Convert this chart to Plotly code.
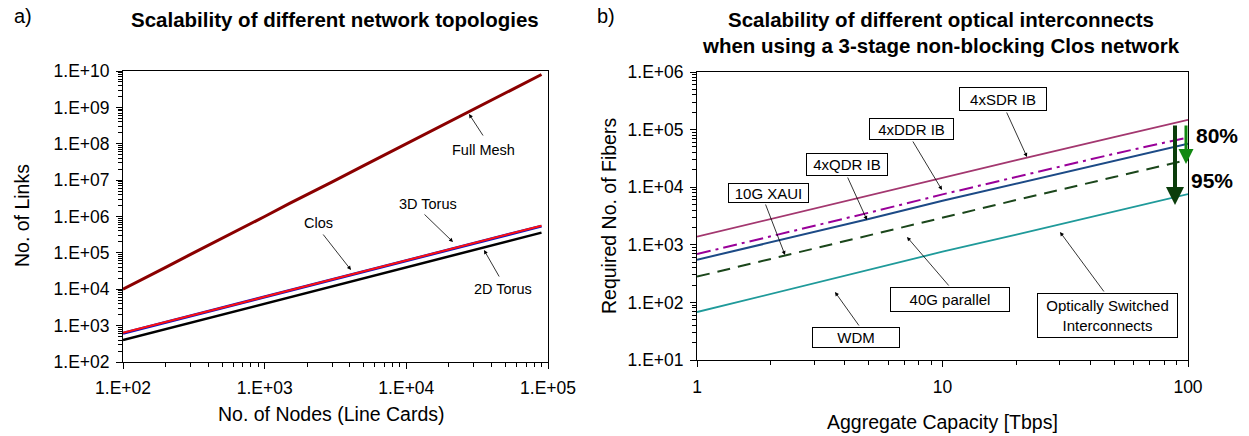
import plotly.graph_objects as go

W, H = 1249, 436
FONT = "Liberation Sans, Arial, sans-serif"

# ---------------- data: panel a ----------------
nodes = [100, 150, 200, 300, 500, 700, 1000, 1500, 2000, 3000, 5000, 7000,
         10000, 15000, 20000, 30000, 50000, 70000, 90000]
full_mesh = [1.0e4, 2.2e4, 4.0e4, 9.1e4, 2.5e5, 4.8e5, 1.0e6, 2.3e6, 4.0e6, 9.0e6,
             2.5e7, 4.9e7, 1.0e8, 2.25e8, 4.0e8, 9.0e8, 2.5e9, 4.9e9, 8.0e9]
clos = [640, 950, 1230, 1900, 3150, 4300, 6200, 9300, 12400, 18600, 31000, 43000,
        62000, 92000, 124000, 186000, 310000, 430000, 560000]
torus3d = [620, 930, 1200, 1850, 3050, 4250, 6050, 9100, 12100, 18200, 30500, 42500,
           60500, 91000, 121000, 182000, 303000, 425000, 545000]
torus2d = [400, 600, 800, 1200, 2000, 2800, 4000, 6000, 8000, 12000, 20000, 28000,
           40000, 60000, 80000, 120000, 200000, 280000, 360000]

# ---------------- data: panel b ----------------
capacity = [1, 2, 5, 10, 20, 50, 100]
sdr_ib = [1380, 2800, 7200, 14800, 29500, 74000, 148000]
ddr_ib = [690, 1400, 3600, 7500, 15000, 38000, 73000]
qdr_ib = [550, 1100, 2800, 5800, 11500, 29000, 57000]
xaui_40g = [280, 570, 1450, 3000, 6000, 15000, 30000]
wdm_osi = [68, 140, 360, 760, 1500, 3800, 7600]

left_yticks = [1e2, 1e3, 1e4, 1e5, 1e6, 1e7, 1e8, 1e9, 1e10]
left_yticktext = ["1.E+02", "1.E+03", "1.E+04", "1.E+05", "1.E+06", "1.E+07",
                  "1.E+08", "1.E+09", "1.E+10"]
left_xticks = [1e2, 1e3, 1e4, 1e5]
left_xticktext = ["1.E+02", "1.E+03", "1.E+04", "1.E+05"]
right_yticks = [1e1, 1e2, 1e3, 1e4, 1e5, 1e6]
right_yticktext = ["1.E+01", "1.E+02", "1.E+03", "1.E+04", "1.E+05", "1.E+06"]
right_xticks = [1, 10, 100]
right_xticktext = ["1", "10", "100"]


def px(x):
    return x / W


def py(y):
    return 1 - y / H


def minors(lo, hi):
    out = []
    for e in range(lo, hi):
        for m in range(2, 10):
            out.append(m * 10 ** e)
    return out


fig = go.Figure()

# panel a lines
fig.add_trace(go.Scatter(x=nodes, y=torus2d, mode="lines", line=dict(color="black", width=2.5),
                         xaxis="x", yaxis="y", name="2D Torus"))
fig.add_trace(go.Scatter(x=nodes, y=torus3d, mode="lines", line=dict(color="#1010c0", width=3),
                         xaxis="x", yaxis="y", name="3D Torus"))
fig.add_trace(go.Scatter(x=nodes, y=clos, mode="lines", line=dict(color="#ff1010", width=2),
                         xaxis="x", yaxis="y", name="Clos"))
fig.add_trace(go.Scatter(x=nodes, y=full_mesh, mode="lines", line=dict(color="#8b0000", width=3),
                         xaxis="x", yaxis="y", name="Full Mesh"))

# panel b lines
fig.add_trace(go.Scatter(x=capacity, y=sdr_ib, mode="lines", line=dict(color="#a3376f", width=1.8),
                         xaxis="x2", yaxis="y2", name="4xSDR IB"))
fig.add_trace(go.Scatter(x=capacity, y=ddr_ib, mode="lines",
                         line=dict(color="#990099", width=2, dash="14px,5px,3px,5px"),
                         xaxis="x2", yaxis="y2", name="4xDDR IB"))
fig.add_trace(go.Scatter(x=capacity, y=qdr_ib, mode="lines", line=dict(color="#1c4a86", width=2),
                         xaxis="x2", yaxis="y2", name="4xQDR IB"))
fig.add_trace(go.Scatter(x=capacity, y=xaui_40g, mode="lines",
                         line=dict(color="#1b461b", width=2, dash="13px,8px"),
                         xaxis="x2", yaxis="y2", name="10G XAUI / 40G parallel"))
fig.add_trace(go.Scatter(x=capacity, y=wdm_osi, mode="lines", line=dict(color="#1f9a9a", width=1.8),
                         xaxis="x2", yaxis="y2", name="WDM / OSI"))

tickfont = dict(family=FONT, size=17.5, color="black")
axis_common = dict(type="log", showgrid=False, zeroline=False, showline=True, linecolor="black",
                   linewidth=1, mirror=True, ticks="outside", ticklen=6, tickcolor="black",
                   tickfont=tickfont, tickmode="array", automargin=False)

fig.update_layout(
    width=W, height=H, margin=dict(l=0, r=0, t=0, b=0),
    paper_bgcolor="white", plot_bgcolor="white", showlegend=False,
    font=dict(family=FONT, color="black"),
    xaxis=dict(axis_common, range=[2, 5], domain=[px(123), px(548)], anchor="y",
               tickvals=left_xticks, ticktext=left_xticktext, ticklabelstandoff=4,
               minor=dict(tickvals=minors(2, 5), ticks="outside", ticklen=4, tickcolor="black")),
    yaxis=dict(axis_common, range=[2, 10], domain=[py(362), py(71)], anchor="x",
               tickvals=left_yticks, ticktext=left_yticktext, ticklabelstandoff=3,
               minor=dict(tickvals=minors(2, 10), ticks="outside", ticklen=4, tickcolor="black")),
    xaxis2=dict(axis_common, range=[0, 2], domain=[px(697), px(1188)], anchor="y2",
                tickvals=right_xticks, ticktext=right_xticktext, ticklabelstandoff=5,
                minor=dict(tickvals=minors(0, 2), ticks="outside", ticklen=4, tickcolor="black")),
    yaxis2=dict(axis_common, range=[1, 6], domain=[py(360), py(72)], anchor="x2",
                tickvals=right_yticks, ticktext=right_yticktext, ticklabelstandoff=3,
                minor=dict(tickvals=minors(1, 6), ticks="outside", ticklen=4, tickcolor="black")),
)

ann = []


def text(x, y, s, size=14, bold=False, angle=0, **kw):
    if bold:
        s = "<b>" + s + "</b>"
    d = dict(x=px(x), y=py(y), xref="paper", yref="paper", text=s, showarrow=False,
             font=dict(family=FONT, size=size, color="black"), xanchor="center",
             yanchor="middle", textangle=angle)
    d.update(kw)
    ann.append(d)


def arrow(tail, head, color="black", width=0.8, size=1.0, head_style=2):
    tx, ty = tail
    hx, hy = head
    ann.append(dict(x=px(hx), y=py(hy), xref="paper", yref="paper", ax=tx - hx, ay=ty - hy,
                    axref="pixel", ayref="pixel", text="", showarrow=True, arrowhead=head_style,
                    arrowsize=size, arrowwidth=width, arrowcolor=color, standoff=0,
                    startstandoff=0))


def box(cx, cy, w, h, s, size=15):
    ann.append(dict(x=px(cx), y=py(cy), xref="paper", yref="paper", text=s, showarrow=False,
                    font=dict(family=FONT, size=size, color="black"), xanchor="center",
                    yanchor="middle", bgcolor="white", bordercolor="black", borderwidth=1,
                    borderpad=0, width=w - 2, height=h - 2, align="center", valign="middle"))


# panel labels and titles
text(23, 16, "a)", size=20)
text(606, 16, "b)", size=20)
text(335, 19, "Scalability of different network topologies", size=20.5, bold=True)
text(941, 20, "Scalability of different optical interconnects", size=20.5, bold=True)
text(941, 45, "when using a 3-stage non-blocking Clos network", size=20.5, bold=True)

# axis titles
text(22, 216, "No. of Links", size=19.5, angle=-90)
text(331, 414, "No. of Nodes (Line Cards)", size=19.5)
text(609, 216, "Required No. of Fibers", size=19.5, angle=-90)
text(942, 422, "Aggregate Capacity [Tbps]", size=19.5)

# panel a annotations
text(483, 150, "Full Mesh", size=14.5)
arrow((484, 137), (469, 114))
text(428, 204, "3D Torus", size=14.5)
arrow((423, 213), (453, 242))
text(318, 223, "Clos", size=14.5)
arrow((322, 233), (351, 270))
text(503, 289, "2D Torus", size=14.5)
arrow((500, 278), (484, 250))

# panel b annotations
box(1003, 99, 88, 24, "4xSDR IB")
arrow((1006, 111), (1027, 157))
box(911.5, 129, 85, 22, "4xDDR IB")
arrow((912, 140), (942, 190))
box(847, 164.5, 82, 23, "4xQDR IB")
arrow((847, 176), (867, 220))
box(768.5, 193, 81, 20, "10G XAUI")
arrow((765, 203), (785, 255))
box(950, 299.5, 120, 25, "40G parallel")
arrow((950, 287), (907, 237))
box(856, 337.5, 88, 21, "WDM")
arrow((860, 327), (835, 292))
box(1107.5, 315.5, 141, 45, "Optically Switched<br>Interconnects")
arrow((1105, 293), (1060, 232))

# reduction arrows
arrow((1175, 124), (1175, 205), color="#0b3d0b", width=4, size=0.9, head_style=2)
arrow((1186, 124), (1186, 164), color="#118811", width=3, size=1.0, head_style=2)
text(1217, 135, "80%", size=21, bold=True)
text(1212, 180, "95%", size=21, bold=True)

fig.update_layout(annotations=ann)
fig.write_html("out.html")
